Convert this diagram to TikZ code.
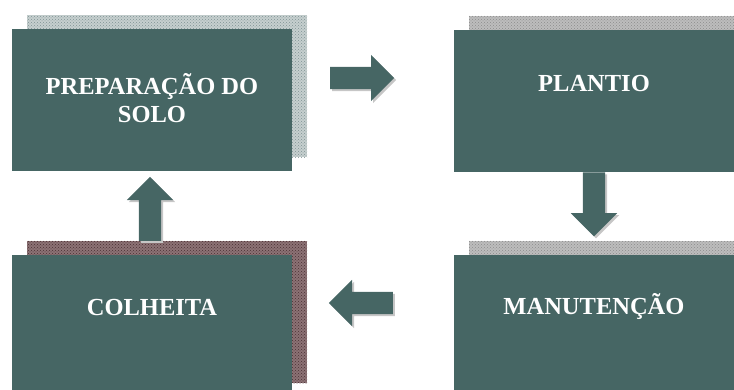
\documentclass[tikz,border=0pt]{standalone}
\usepackage{fontspec}
\setmainfont{Liberation Serif}
\usepackage{tikz}
\usetikzlibrary{shapes.arrows, shadows, patterns, calc}
\definecolor{boxfill}{HTML}{466664}
\definecolor{paleback}{HTML}{C6CFCF}
\definecolor{paledots}{HTML}{7F9392}
\definecolor{wineback}{HTML}{8C7275}
\definecolor{winedots}{HTML}{4A3033}
\tikzset{stage/.style={shape=rectangle, fill=boxfill, minimum width=280pt,
    minimum height=142pt, inner sep=0pt}}
\tikzset{backing/.style 2 args={general shadow={shadow xshift=15pt,
    shadow yshift=14pt, fill=#1, postaction={pattern=crosshatch dots, pattern color=#2}}}}
\tikzset{stagetext/.style={text=white, font=\bfseries\fontsize{24.5}{28}\selectfont,
    align=center, inner sep=0pt, anchor=base}}
\tikzset{blockarrow/.style={single arrow, fill=boxfill, anchor=tail, inner sep=0pt,
    minimum height=64pt, single arrow head extend=12pt,
    text height=22pt, text depth=0pt, text width=0pt,
    general shadow={shadow xshift=2pt, shadow yshift=-2pt, fill=gray!45}}}
\tikzset{uprightarrow/.style={blockarrow, text height=0pt, text width=22pt}}

\begin{document}
\begin{tikzpicture}[x=1pt, y=-1pt]
  \useasboundingbox (0,0) rectangle (734,390);
  \clip (0,0) rectangle (734,390);
  \node[stage, backing={paleback}{paledots}] (prep) at (152,100.5) {};
  \node[stage, backing={gray!52}{gray!90}] (plantio) at (594,101) {};
  \node[stage, backing={gray!52}{gray!90}] (manut) at (594,326) {};
  \node[stage, backing={wineback}{winedots}] (colheita) at (152,326) {};
  \node[stagetext] (preptxt) at ($(prep.north)+(0,93)$) {PREPARAÇÃO DO\\SOLO};
  \node[stagetext] (plantiotxt) at ($(plantio.north)+(0,62)$) {PLANTIO};
  \node[stagetext] (manuttxt) at ($(manut.north)+(0,60)$) {MANUTENÇÃO};
  \node[stagetext] (colheitatxt) at ($(colheita.north)+(0,61)$) {COLHEITA};
  \node[blockarrow] (toplantio) at (330,78) {};
  \node[uprightarrow, shape border rotate=270] (tomanut) at (plantio.south) {};
  \node[blockarrow, shape border rotate=180] (tocolheita) at (393,303) {};
  \node[uprightarrow, shape border rotate=90] (toprep) at (150,241) {};
\end{tikzpicture}
\end{document}
